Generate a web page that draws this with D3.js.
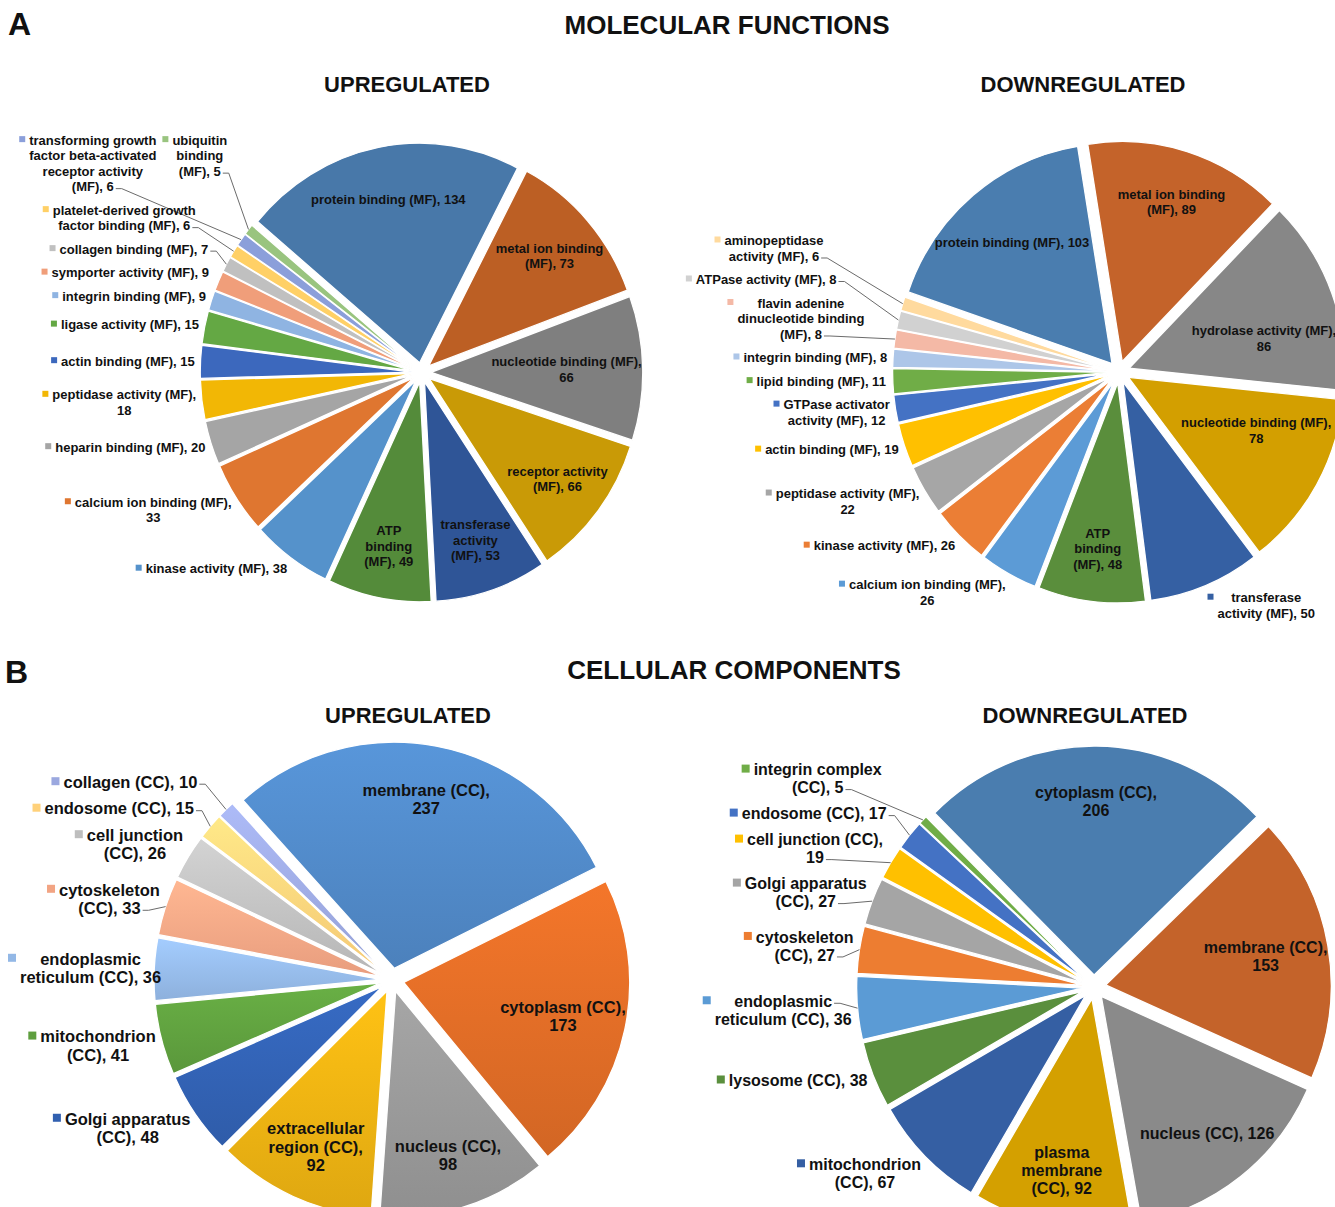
<!DOCTYPE html>
<html>
<head>
<meta charset="utf-8">
<script src="https://cdn.jsdelivr.net/npm/d3@7"></script>
<style>
  body { margin: 0; background: #fff; }
  svg text { font-family: "Liberation Sans", Arial, sans-serif; font-weight: bold; }
</style>
</head>
<body>
<svg id="fig" width="1335" height="1207"></svg>
<script>
// ---- data ----
const mfUpCategories = ["protein binding (MF)", "metal ion binding (MF)", "nucleotide binding (MF)", "receptor activity (MF)",
  "transferase activity (MF)", "ATP binding (MF)", "kinase activity (MF)", "calcium ion binding (MF)", "heparin binding (MF)",
  "peptidase activity (MF)", "actin binding (MF)", "ligase activity (MF)", "integrin binding (MF)", "symporter activity (MF)",
  "collagen binding (MF)", "platelet-derived growth factor binding (MF)",
  "transforming growth factor beta-activated receptor activity (MF)", "ubiquitin binding (MF)"];
const mfUpValues = [134, 73, 66, 66, 53, 49, 38, 33, 20, 18, 15, 15, 9, 9, 7, 6, 6, 5];

const mfDownCategories = ["protein binding (MF)", "metal ion binding (MF)", "hydrolase activity (MF)", "nucleotide binding (MF)",
  "transferase activity (MF)", "ATP binding (MF)", "calcium ion binding (MF)", "kinase activity (MF)", "peptidase activity (MF)",
  "actin binding (MF)", "GTPase activator activity (MF)", "lipid binding (MF)", "integrin binding (MF)",
  "flavin adenine dinucleotide binding (MF)", "ATPase activity (MF)", "aminopeptidase activity (MF)"];
const mfDownValues = [103, 89, 86, 78, 50, 48, 26, 26, 22, 19, 12, 11, 8, 8, 8, 6];

const ccUpCategories = ["membrane (CC)", "cytoplasm (CC)", "nucleus (CC)", "extracellular region (CC)", "Golgi apparatus (CC)",
  "mitochondrion (CC)", "endoplasmic reticulum (CC)", "cytoskeleton (CC)", "cell junction (CC)", "endosome (CC)", "collagen (CC)"];
const ccUpValues = [237, 173, 98, 92, 48, 41, 36, 33, 26, 15, 10];

const ccDownCategories = ["cytoplasm (CC)", "membrane (CC)", "nucleus (CC)", "plasma membrane (CC)", "mitochondrion (CC)",
  "lysosome (CC)", "endoplasmic reticulum (CC)", "cytoskeleton (CC)", "Golgi apparatus (CC)", "cell junction (CC)",
  "endosome (CC)", "integrin complex (CC)"];
const ccDownValues = [206, 153, 126, 92, 67, 38, 36, 27, 27, 19, 17, 5];

// ---- styles ----
const mfUpColors = ["#4878a9", "#bc5f24", "#7f7f7f", "#c99a06", "#2f5597", "#548b3a", "#5592cb", "#df7630", "#a5a5a5",
  "#f2b705", "#3c68bd", "#64a844", "#8fb4e2", "#f09e7a", "#c0c0c0", "#ffd066", "#8b9fda", "#99c47f"];
const mfDownColors = ["#4a7daf", "#c4632a", "#878787", "#d39f00", "#3560a3", "#5a8e3c", "#5c9bd6", "#eb7e35", "#a6a6a6",
  "#ffc000", "#4472c4", "#70ad47", "#adc6e8", "#f4b9a6", "#d1d1d1", "#ffda9e"];
const ccUpColors = ["#4f87c4", "#db6a26", "#959595", "#e8ae12", "#3160b0", "#5e9e3e", "#93b8e6", "#f2a483", "#bebebe",
  "#ffd17a", "#9ba8df"];
const ccDownColors = ["#4a7daf", "#c4632a", "#8a8a8a", "#d4a000", "#355fa3", "#5a8f3d", "#5b9bd5", "#ed7d31", "#a5a5a5",
  "#ffc000", "#4472c4", "#70ad47"];

// label wrap width (characters) per slice
const mfUpWrap = [30, 17, 24, 17, 11, 8, 30, 25, 30, 24, 30, 30, 30, 30, 30, 23, 21, 9];
const mfDownWrap = [30, 17, 24, 24, 17, 8, 25, 30, 24, 30, 17, 30, 30, 20, 30, 16];
const ccUpWrap = [14, 15, 13, 13, 15, 13, 19, 12, 13, 30, 30];
const ccDownWrap = [15, 14, 30, 8, 13, 30, 19, 12, 15, 19, 30, 16];

const pies = [
  { categories: mfUpCategories, values: mfUpValues, colors: mfUpColors, wrap: mfUpWrap,
    cx: 421.5, cy: 372.5, r: 219.5, sx: 0.964, explode: 10, start: -50, font: 13, lineH: 15.5, key: 6, pad: 6, topLimit: 115 },
  { categories: mfDownCategories, values: mfDownValues, colors: mfDownColors, wrap: mfDownWrap,
    cx: 1119, cy: 372, r: 220, sx: 0.98, explode: 11, start: -71, font: 13, lineH: 15.5, key: 6, pad: 6, topLimit: 110 },
  { categories: ccUpCategories, values: ccUpValues, colors: ccUpColors, wrap: ccUpWrap, gradient: true,
    cx: 392, cy: 980, r: 226, sx: 1, explode: 12, start: -42, font: 16.5, lineH: 18.5, key: 8, pad: 6, topLimit: 740 },
  { categories: ccDownCategories, values: ccDownValues, colors: ccDownColors, wrap: ccDownWrap,
    cx: 1094, cy: 987, r: 229, sx: 0.985, explode: 12, start: -45, font: 16, lineH: 18, key: 8, pad: 6, topLimit: 740 }
];

const svg = d3.select("#fig");
const defs = svg.append("defs");
const rad = Math.PI / 180;
const W = 1335;

// hidden text used to measure label widths
const meas = svg.append("text").attr("visibility", "hidden");
function textW(t, size) {
  meas.attr("font-size", size).text(t);
  return meas.node().getComputedTextLength();
}

function wrapLabel(str, n) {
  const words = str.split(" ");
  const lines = [];
  let cur = "";
  words.forEach(w => {
    if (!cur) cur = w;
    else if ((cur + " " + w).length <= n) cur += " " + w;
    else { lines.push(cur); cur = w; }
  });
  if (cur) lines.push(cur);
  return lines;
}

function drawPie(p, pi) {
  const arcs = d3.pie().sort(null).value(d => d)
    .startAngle(p.start * rad).endAngle((p.start + 360) * rad)(p.values);
  const arc = d3.arc().innerRadius(0).outerRadius(p.r);
  const off = a => [p.explode * Math.sin(a), -p.explode * Math.cos(a)];
  const toX = px => p.cx + p.sx * px;

  // Excel-ish shading on the lower left pie
  const fillOf = i => {
    if (!p.gradient) return p.colors[i];
    const id = "grad" + pi + "_" + i;
    const lg = defs.append("linearGradient").attr("id", id).attr("x1", 0).attr("y1", 0).attr("x2", 0).attr("y2", 1);
    lg.append("stop").attr("offset", "0%").attr("stop-color", d3.color(p.colors[i]).brighter(0.3));
    lg.append("stop").attr("offset", "100%").attr("stop-color", d3.color(p.colors[i]).darker(0.12));
    return `url(#${id})`;
  };

  const g = svg.append("g").attr("transform", `translate(${p.cx},${p.cy}) scale(${p.sx},1)`);
  g.selectAll("path").data(arcs).join("path")
    .attr("transform", d => {
      const o = off((d.startAngle + d.endAngle) / 2);
      return `translate(${o[0]},${o[1]})`;
    })
    .attr("d", arc)
    .attr("fill", (d, i) => fillOf(i))
    .attr("stroke", "#fff")
    .attr("stroke-width", 1.3)
    .attr("stroke-linejoin", "round");

  const leaderLayer = svg.append("g");
  const labelLayer = svg.append("g");
  const outs = [];

  arcs.forEach((d, i) => {
    const lines = wrapLabel(`${p.categories[i]}, ${p.values[i]}`, p.wrap[i]);
    const lw = lines.map(t => textW(t, p.font));
    const w = d3.max(lw), h = lines.length * p.lineH;
    const mid = (d.startAngle + d.endAngle) / 2;
    const half = (d.endAngle - d.startAngle) / 2;
    const o = off(mid);
    const wp = w / p.sx;

    // does the label fit inside the slice? try a few radii and angles
    let spot = null;
    search:
    for (const f of [0.76, 0.72, 0.8, 0.68, 0.84, 0.64, 0.88, 0.6, 0.56, 0.52, 0.48]) {
      for (const dd of [0, -0.3, 0.3, -0.55, 0.55]) {
        const a = mid + dd * half;
        const rl = f * p.r;
        const x0 = rl * Math.sin(a), y0 = -rl * Math.cos(a);
        const corners = [[x0 - wp / 2, y0 - h / 2], [x0 + wp / 2, y0 - h / 2], [x0 - wp / 2, y0 + h / 2], [x0 + wp / 2, y0 + h / 2]];
        const ok = corners.every(([x, y]) => {
          if (Math.hypot(x, y) > p.r + 4) return false;
          let dl = Math.atan2(x, -y) - mid;
          dl = ((dl + 3 * Math.PI) % (2 * Math.PI)) - Math.PI;
          return Math.abs(dl) <= half + 0.3 * rad;
        });
        if (ok) { spot = [x0, y0]; break search; }
      }
    }

    if (spot) {
      const X = toX(spot[0] + o[0]), Y = p.cy + spot[1] + o[1];
      lines.forEach((t, k) => {
        labelLayer.append("text")
          .attr("x", X).attr("y", Y - h / 2 + p.lineH * (k + 0.5)).attr("dy", "0.35em")
          .attr("text-anchor", "middle").attr("font-size", p.font).attr("fill", "#111")
          .text(t);
      });
    } else {
      const ra = p.r + p.explode + p.pad, re = p.r + p.explode;
      const side = Math.sin(mid) < 0 ? -1 : 1;
      const bw = w + p.key + 4;
      const ax = toX(ra * Math.sin(mid)), ay = p.cy - ra * Math.cos(mid);
      outs.push({
        i, lines, lw, w, h, mid, side, bw,
        left: side < 0 ? ax - bw : ax,
        top: ay - h * (1 + Math.cos(mid)) / 2,
        push: 0,
        px: toX(re * Math.sin(mid)), py: p.cy - re * Math.cos(mid),
        norm: ((mid % (2 * Math.PI)) + 2 * Math.PI) % (2 * Math.PI)
      });
    }
  });

  // stack outside labels from the bottom upwards, one side at a time
  [-1, 1].forEach(s => {
    const list = outs.filter(o => o.side === s).sort((a, b) => s < 0 ? a.norm - b.norm : b.norm - a.norm);
    let prev = null;
    list.forEach(o => {
      if (prev) {
        const limit = prev.top - 8;
        if (o.top + o.h > limit) {
          const push = o.top + o.h - limit;
          o.top -= push;
          o.push = push;
          o.left += s * Math.min(1.5 * push, 80);
          if (o.top < p.topLimit) {
            o.top = prev.top;
            o.left = s < 0 ? prev.left + prev.bw + 6 : prev.left - o.bw - 6;
          }
        }
      }
      o.left = Math.max(8, Math.min(W - 3 - o.bw, o.left));
      prev = o;
    });
  });

  outs.forEach(o => {
    const color = p.colors[o.i];
    const tcx = o.left + p.key + 4 + o.w / 2;
    labelLayer.append("rect")
      .attr("x", o.left).attr("y", o.top + p.lineH / 2 - p.key / 2 - 1)
      .attr("width", p.key).attr("height", p.key).attr("fill", color);
    o.lines.forEach((t, k) => {
      labelLayer.append("text")
        .attr("x", tcx).attr("y", o.top + p.lineH * (k + 0.5)).attr("dy", "0.35em")
        .attr("text-anchor", "middle").attr("font-size", p.font).attr("fill", "#111")
        .text(t);
    });
    // leader line to the slice, only when the label sits away from it
    const j = d3.minIndex(o.lines, (t, k) => Math.abs(o.top + p.lineH * (k + 0.5) - o.py));
    const ly = o.top + p.lineH * (j + 0.5) + 2;
    const lx = o.side < 0 ? tcx + o.lw[j] / 2 + 2 : o.left - 2;
    if (o.push > 5 || Math.hypot(lx - o.px, ly - o.py) > 22) {
      leaderLayer.append("path")
        .attr("d", d3.line()([[lx, ly], [lx - o.side * 6, ly], [o.px, o.py]]))
        .attr("fill", "none").attr("stroke", "#6b6b6b").attr("stroke-width", 1);
    }
  });
}

pies.forEach(drawPie);

// ---- titles ----
const titles = [
  { t: "A", x: 8, y: 35, s: 32, a: "start" },
  { t: "MOLECULAR FUNCTIONS", x: 727, y: 34, s: 26, a: "middle" },
  { t: "UPREGULATED", x: 407, y: 92, s: 22, a: "middle" },
  { t: "DOWNREGULATED", x: 1083, y: 92, s: 22, a: "middle" },
  { t: "B", x: 5, y: 683, s: 32, a: "start" },
  { t: "CELLULAR COMPONENTS", x: 734, y: 679, s: 26, a: "middle" },
  { t: "UPREGULATED", x: 408, y: 723, s: 22, a: "middle" },
  { t: "DOWNREGULATED", x: 1085, y: 723, s: 22, a: "middle" }
];
svg.append("g").selectAll("text").data(titles).join("text")
  .attr("x", d => d.x).attr("y", d => d.y).attr("font-size", d => d.s)
  .attr("text-anchor", d => d.a).attr("fill", "#111").text(d => d.t);
</script>
</body>
</html>
